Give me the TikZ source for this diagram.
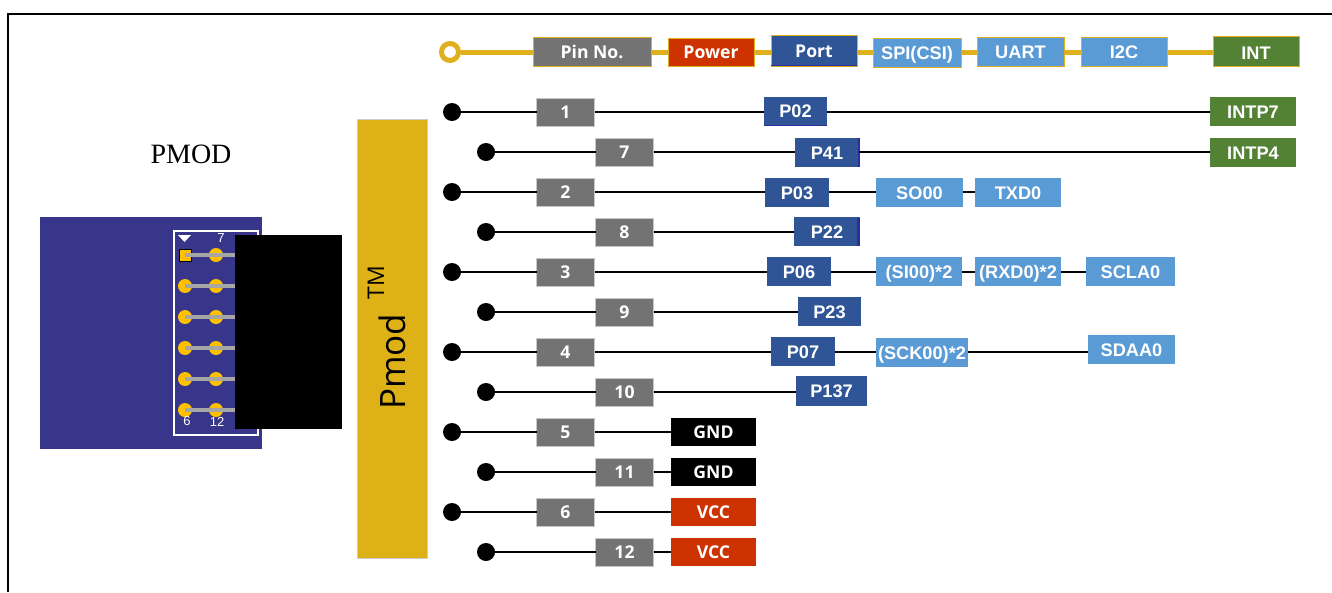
\documentclass[tikz,border=0pt]{standalone}
\usepackage{fontspec}
\setmainfont{Liberation Serif}
\setsansfont{Liberation Sans}
\newfontfamily\opensans{Open Sans}
\tikzset{
  x=1pt,y=-1pt,
  tag/.style={inner sep=0pt,outer sep=0pt,text=white,text height=13pt,text depth=0pt,font=\sffamily\bfseries\fontsize{18.2}{18.2}\selectfont},
  os/.style={tag,font=\opensans\bfseries\fontsize{17.6}{17.6}\selectfont},
  graybox/.style={os,fill=black!55,draw=black!22,line width=.8pt,minimum width=58pt,minimum height=28pt},
  portbox/.style={tag,fill=portblue,minimum height=29pt},
  serbox/.style={tag,fill=serblue,minimum height=29pt},
  intbox/.style={tag,fill=intgreen,minimum width=86pt,minimum height=29pt},
  gndbox/.style={os,fill=black,minimum width=85pt,minimum height=28pt},
  vccbox/.style={os,fill=pwrred,minimum width=85pt,minimum height=28pt},
  legend/.style={draw=legold,line width=.8pt,minimum height=29pt},
  pindot/.style={circle,fill=black,inner sep=0pt,minimum size=18pt},
  wire/.style={draw=black,line width=2pt},
  goldwire/.style={draw=legold,line width=5pt},
  pad/.style={circle,fill=padgold,inner sep=0pt,minimum size=14pt},
  pinlabel/.style={inner sep=0pt,text=white,font=\sffamily\fontsize{13}{13}\selectfont},
}
\definecolor{portblue}{HTML}{2F5597}
\definecolor{stripe}{HTML}{2B2F9E}
\definecolor{serblue}{HTML}{5B9BD5}
\definecolor{intgreen}{HTML}{548235}
\definecolor{pwrred}{HTML}{CC3300}
\definecolor{legold}{HTML}{E0B01A}
\definecolor{bargold}{HTML}{DEB117}
\definecolor{boardblue}{HTML}{37368A}
\definecolor{padgold}{HTML}{FFC000}
\begin{document}
\begin{tikzpicture}
\useasboundingbox (0,0) rectangle (1332,592);
\draw[black,line width=2pt] (8,592) -- (8,14) -- (1332,14);
% board
\fill[boardblue] (40,217) rectangle (262,449);
\draw[white,line width=2pt] (173.5,230.5) rectangle (257.5,434.5);
\foreach \y in {286,317,348,379,410}{
  \node[pad] at (185,\y) {};
}
\foreach \y in {255,286,317,348,379,410}{
  \node[pad] at (216,\y) {};
}
\fill[padgold,draw=black,line width=.8pt] (179,249) rectangle (191,261);
\foreach \y in {255,286,317,348,379,410}{
  \fill[black!35] (185,\y-1.7) rectangle (236,\y+1.7);
}
\fill[white] (178,235) -- (191,235) -- (184.5,242) -- cycle;
\node[pinlabel] (l7) at (221,238.5) {7};
\node[pinlabel] (l6) at (187,421.5) {6};
\node[pinlabel] (l12) at (217,421.5) {12};
\fill[black] (235,235) rectangle (342,429);
\node[inner sep=0pt,font=\fontsize{28}{28}\selectfont] (pmodlabel) at (191,154) {PMOD};
% bar
\node[fill=bargold,draw=black!20,line width=.6pt,minimum width=70pt,minimum height=439pt,inner sep=0pt] (bar) at (392,338.5) {};
\node[rotate=90,anchor=base west,inner sep=0pt,font=\opensans\fontsize{35}{35}\selectfont] (pmodtxt) at (405,410) {Pmod\raisebox{21pt}{\kern14pt\fontsize{23}{23}\selectfont TM}};
% legend
\node[circle,draw=legold,line width=5pt,fill=white,inner sep=0pt,minimum size=17pt] (ld) at (450,52) {};
\node[legend,os,fill=black!55,minimum width=118pt] (lpin) at (592,51.5) {Pin No.};
\node[legend,os,fill=pwrred,minimum width=86pt,minimum height=28pt] (lpow) at (711,52) {Power};
\node[legend,os,fill=portblue,minimum width=86pt,minimum height=31pt] (lport) at (814,50.5) {Port};
\fill[stripe] (771,64.5) rectangle (857,66);
\node[legend,tag,fill=serblue,minimum width=88pt] (lspi) at (917,52.5) {SPI(CSI)};
\node[legend,tag,fill=serblue,minimum width=87pt] (luart) at (1020.5,52) {UART};
\node[legend,tag,fill=serblue,minimum width=86pt] (li2c) at (1124,52) {I2C};
\node[legend,tag,fill=intgreen,minimum width=86pt,minimum height=30pt] (lint) at (1256,51) {\raisebox{-1.5pt}{INT}};
\draw[goldwire] (ld) -- (ld-|lpin.west);
\draw[goldwire] (lpin.east|-ld) -- (lpow.west|-ld);
\draw[goldwire] (lpow.east|-ld) -- (lport.west|-ld);
\draw[goldwire] (lport.east|-ld) -- (lspi.west|-ld);
\draw[goldwire] (lspi.east|-ld) -- (luart.west|-ld);
\draw[goldwire] (luart.east|-ld) -- (li2c.west|-ld);
\draw[goldwire] (li2c.east|-ld) -- (lint.west|-ld);
% dots
\foreach \n/\y in {1/112,2/192,3/272,4/352,5/432,6/512}{
  \node[pindot] (d\n) at (452,\y) {};
  \node[graybox] (g\n) at (565.5,\y) {\n};
}
\foreach \n/\y in {7/152,8/232,9/312,10/392,11/472,12/552}{
  \node[pindot] (d\n) at (486,\y) {};
  \node[graybox] (g\n) at (624.5,\y) {\n};
}
% ports
\node[portbox,minimum width=63pt] (p02) at (795.5,111) {P02};
\fill[stripe] (764,124.8) rectangle (827,126);
\node[portbox,minimum width=64pt] (p41) at (827,152.5) {P41};
\node[portbox,minimum width=64pt] (p03) at (797,192.5) {P03};
\node[portbox,minimum width=66pt] (p22) at (827,231.5) {P22};
\node[portbox,minimum width=64pt] (p06) at (799,271.5) {P06};
\node[portbox,minimum width=63pt] (p23) at (829.5,311.5) {P23};
\node[portbox,minimum width=64pt] (p07) at (803,351.5) {P07};
\node[portbox,minimum width=71pt,minimum height=30pt] (p137) at (831.5,391) {P137};
\fill[stripe] (858,138) rectangle (860,167);
\fill[stripe] (857,218) rectangle (860,246);
% serial
\node[serbox,minimum width=87pt] (so) at (919.5,192.5) {SO00};
\node[serbox,minimum width=86pt] (txd) at (1018,192.5) {TXD0};
\node[serbox,minimum width=86pt] (si) at (919,271.5) {(SI00)*2};
\node[serbox,minimum width=86pt] (rxd) at (1018,271.5) {(RXD0)*2};
\node[serbox,minimum width=89pt] (scl) at (1130.5,271.5) {SCLA0};
\node[serbox,minimum width=92pt] (sck) at (922,352.5) {(SCK00)*2};
\node[serbox,minimum width=87pt] (sda) at (1131.5,349.5) {SDAA0};
% int
\node[intbox] (i7) at (1253,111.5) {INTP7};
\node[intbox] (i4) at (1253,152.5) {INTP4};
% power
\node[gndbox] (n5) at (713.5,432) {GND};
\node[gndbox] (n11) at (713.5,472) {GND};
\node[vccbox] (n6) at (713.5,512) {VCC};
\node[vccbox] (n12) at (713.5,552) {VCC};
% wires
\foreach \n in {1,...,12}{\draw[wire] (d\n) -- (g\n);}
\draw[wire] (g1) -- (g1-|p02.west);
\draw[wire] (g7) -- (g7-|p41.west);
\draw[wire] (g2) -- (g2-|p03.west);
\draw[wire] (g8) -- (g8-|p22.west);
\draw[wire] (g3) -- (g3-|p06.west);
\draw[wire] (g9) -- (g9-|p23.west);
\draw[wire] (g4) -- (g4-|p07.west);
\draw[wire] (g10) -- (g10-|p137.west);
\draw[wire] (g5) -- (g5-|n5.west);
\draw[wire] (g11) -- (g11-|n11.west);
\draw[wire] (g6) -- (g6-|n6.west);
\draw[wire] (g12) -- (g12-|n12.west);
\draw[wire] (p02.east|-g1) -- (i7.west|-g1);
\draw[wire] (p41.east|-g7) -- (i4.west|-g7);
\draw[wire] (p03.east|-g2) -- (so.west|-g2);
\draw[wire] (so.east|-g2) -- (txd.west|-g2);
\draw[wire] (p06.east|-g3) -- (si.west|-g3);
\draw[wire] (si.east|-g3) -- (rxd.west|-g3);
\draw[wire] (rxd.east|-g3) -- (scl.west|-g3);
\draw[wire] (p07.east|-g4) -- (sck.west|-g4);
\draw[wire] (sck.east|-g4) -- (sda.west|-g4);
\end{tikzpicture}
\end{document}
